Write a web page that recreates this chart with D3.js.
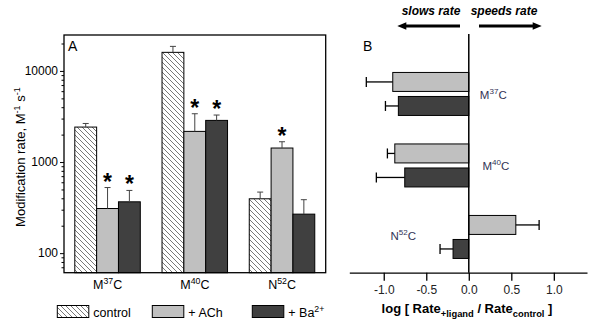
<!DOCTYPE html>
<html>
<head>
<meta charset="utf-8">
<script src="https://cdn.jsdelivr.net/npm/d3@7"></script>
<style>
  body { margin: 0; background: #fff; }
  svg { font-family: "Liberation Sans", Arial, sans-serif; }
</style>
</head>
<body>
<svg id="chart" width="600" height="329"></svg>
<script>
// mutants (name + superscript number)
const mutants = ["M", "M", "N"]
const mutantNum = ["37", "40", "52"]
const cats = ["M37C", "M40C", "N52C"]

// panel A: modification rates (M-1 s-1), with top of error bar
const controlRate = [2420, 16000, 395]
const controlErr = [2650, 18600, 468]
const achRate = [309, 2170, 1425]
const achErr = [525, 3390, 1670]
const baRate = [366, 2865, 268]
const baErr = [488, 3280, 386]
const achStar = [true, true, true]
const baStar = [true, true, false]

// panel B: log(rate ligand / rate control), with end of error bar
const achLog = [-0.894, -0.87, 0.553]
const achLogErr = [-1.205, -0.957, 0.827]
const baLog = [-0.828, -0.753, -0.185]
const baLogErr = [-0.98, -1.087, -0.338]

const yTicksA = [100, 1000, 10000]
const xTicksB = [-1.0, -0.5, 0.0, 0.5, 1.0]

const colors = { control: "url(#hatch)", ach: "#c0c0c0", ba: "#404040" }

const svg = d3.select("#chart")

// hatch pattern for control bars
const pat = svg.append("defs").append("pattern")
  .attr("id", "hatch")
  .attr("patternUnits", "userSpaceOnUse")
  .attr("width", 5).attr("height", 5)
pat.append("rect").attr("width", 5).attr("height", 5).attr("fill", "#fff")
pat.append("path")
  .attr("d", "M0,0L5,5M-1,4L1,6M4,-1L6,1")
  .attr("stroke", "#555").attr("stroke-width", 0.8)

// helper: text with superscript parts
function supText(sel, parts) {
  parts.forEach(p => {
    const t = sel.append("tspan").text(p.t)
    if (p.sup) t.attr("dy", -5).attr("font-size", "0.7em")
    else if (p.sub) t.attr("dy", 4).attr("font-size", "0.72em")
    else if (p.back) t.attr("dy", p.back)
  })
}

// ---------- Panel A ----------
const A = { left: 64, right: 325.7, top: 35, bottom: 272.7 }

const x0 = d3.scaleBand().domain(cats).range([A.left, A.right]).padding(0)
const yA = d3.scaleLog().domain([61, 24800]).range([A.bottom, A.top])

const groupA = cats.map((c, i) => ({
  cat: c,
  bars: [
    { key: "control", v: controlRate[i], e: controlErr[i], star: false },
    { key: "ach", v: achRate[i], e: achErr[i], star: achStar[i] },
    { key: "ba", v: baRate[i], e: baErr[i], star: baStar[i] }
  ]
}))

const g = svg.append("g")

groupA.forEach(gr => {
  const start = x0(gr.cat)
  const x1 = d3.scaleBand().domain(["control", "ach", "ba"])
    .range([start + 10.8, start + 76.3]).padding(0)

  const bg = g.append("g")
  bg.selectAll("rect").data(gr.bars).enter().append("rect")
    .attr("x", d => x1(d.key))
    .attr("y", d => yA(d.v))
    .attr("width", x1.bandwidth())
    .attr("height", d => A.bottom - yA(d.v))
    .attr("fill", d => colors[d.key])
    .attr("stroke", "#000").attr("stroke-width", 1)

  // error bars
  bg.selectAll("line.err").data(gr.bars).enter().append("line")
    .attr("x1", d => x1(d.key) + x1.bandwidth() / 2)
    .attr("x2", d => x1(d.key) + x1.bandwidth() / 2)
    .attr("y1", d => yA(d.v))
    .attr("y2", d => yA(d.e))
    .attr("stroke", "#444").attr("stroke-width", 1)
  bg.selectAll("line.cap").data(gr.bars).enter().append("line")
    .attr("x1", d => x1(d.key) + x1.bandwidth() / 2 - 3)
    .attr("x2", d => x1(d.key) + x1.bandwidth() / 2 + 3)
    .attr("y1", d => yA(d.e))
    .attr("y2", d => yA(d.e))
    .attr("stroke", "#444").attr("stroke-width", 1)

  // asterisks
  bg.selectAll("text.star").data(gr.bars.filter(d => d.star)).enter().append("text")
    .attr("x", d => x1(d.key) + x1.bandwidth() / 2)
    .attr("y", d => yA(d.e) + 2)
    .attr("text-anchor", "middle")
    .attr("font-size", "23px")
    .attr("font-weight", "bold")
    .text("*")
})

// frame
g.append("rect")
  .attr("x", A.left).attr("y", A.top)
  .attr("width", A.right - A.left).attr("height", A.bottom - A.top)
  .attr("fill", "none").attr("stroke", "#000").attr("stroke-width", 1.3)

// y axis with minor ticks
const minor = []
for (let dec = 10; dec <= 10000; dec *= 10)
  for (let k = 2; k <= 9; k++) if (dec * k >= 61 && dec * k <= 24800) minor.push(dec * k)

g.append("g").attr("transform", `translate(${A.left},0)`)
  .call(d3.axisLeft(yA).tickValues(minor).tickSize(2.5).tickFormat(""))
  .call(a => a.select(".domain").remove())
g.append("g").attr("transform", `translate(${A.left},0)`)
  .call(d3.axisLeft(yA).tickValues(yTicksA).tickSize(4).tickPadding(2).tickFormat(d3.format("d")))
  .call(a => a.select(".domain").remove())
  .call(a => a.selectAll("text").attr("font-size", "12px").attr("fill", "#000")
    .attr("font-family", "Liberation Sans, Arial, sans-serif"))

// category labels
cats.forEach((c, i) => {
  const t = g.append("text")
    .attr("x", x0(c) + x0.bandwidth() / 2)
    .attr("y", 288.5)
    .attr("text-anchor", "middle")
    .attr("font-size", "12.5px")
  supText(t, [{ t: mutants[i] }, { t: mutantNum[i], sup: true }, { t: "C", back: 5 }])
})

// y title
const yt = g.append("text")
  .attr("transform", "translate(25,157) rotate(-90)")
  .attr("text-anchor", "middle")
  .attr("font-size", "13px")
supText(yt, [{ t: "Modification rate, M" }, { t: "-1", sup: true }, { t: " s", back: 5 }, { t: "-1", sup: true }])

g.append("text").attr("x", 68).attr("y", 51).attr("font-size", "14px").text("A")

// legend
const legend = [
  { key: "control", label: [{ t: "control" }], x: 57.3 },
  { key: "ach", label: [{ t: "+ ACh" }], x: 152.3 },
  { key: "ba", label: [{ t: "+ Ba" }, { t: "2+", sup: true }], x: 252.3 }
]
legend.forEach(l => {
  g.append("rect")
    .attr("x", l.x).attr("y", 305.5).attr("width", 31.5).attr("height", 12)
    .attr("fill", colors[l.key]).attr("stroke", "#000").attr("stroke-width", 1)
  const t = g.append("text").attr("x", l.x + 36).attr("y", 316.5).attr("font-size", "12.5px")
  supText(t, l.label)
})

// ---------- Panel B ----------
const B = { left: 349.3, right: 587, top: 34, bottom: 272.7 }
const xB = d3.scaleLinear().domain([-1.405, 1.39]).range([B.left, B.right])
const yB = d3.scaleBand().domain(cats).range([58.2, B.bottom]).padding(0)

const gb = svg.append("g")

cats.forEach((c, i) => {
  const mid = yB(c) + yB.bandwidth() / 2
  const y1 = d3.scaleBand().domain(["ach", "ba"]).range([mid - 21.5, mid + 21.5]).paddingInner(0.21)
  const rows = [
    { key: "ach", v: achLog[i], e: achLogErr[i] },
    { key: "ba", v: baLog[i], e: baLogErr[i] }
  ]
  gb.selectAll(null).data(rows).enter().append("rect")
    .attr("x", d => Math.min(xB(0), xB(d.v)))
    .attr("y", d => y1(d.key))
    .attr("width", d => Math.abs(xB(d.v) - xB(0)))
    .attr("height", y1.bandwidth())
    .attr("fill", d => colors[d.key])
    .attr("stroke", "#000").attr("stroke-width", 1)
  gb.selectAll(null).data(rows).enter().append("line")
    .attr("x1", d => xB(d.v)).attr("x2", d => xB(d.e))
    .attr("y1", d => y1(d.key) + y1.bandwidth() / 2)
    .attr("y2", d => y1(d.key) + y1.bandwidth() / 2)
    .attr("stroke", "#000").attr("stroke-width", 1.3)
  gb.selectAll(null).data(rows).enter().append("line")
    .attr("x1", d => xB(d.e)).attr("x2", d => xB(d.e))
    .attr("y1", d => y1(d.key) + y1.bandwidth() / 2 - 5)
    .attr("y2", d => y1(d.key) + y1.bandwidth() / 2 + 5)
    .attr("stroke", "#000").attr("stroke-width", 1.3)
})

// category labels in B
const labelPosB = [0.13, 0.16, -0.92]
cats.forEach((c, i) => {
  const t = gb.append("text")
    .attr("x", xB(labelPosB[i]))
    .attr("y", yB(c) + yB.bandwidth() / 2 + (i === 2 ? 3 : 5))
    .attr("font-size", "11.5px")
    .attr("fill", "#333355")
  supText(t, [{ t: mutants[i] }, { t: mutantNum[i], sup: true }, { t: "C", back: 5 }])
})

// zero line
gb.append("line")
  .attr("x1", xB(0)).attr("x2", xB(0))
  .attr("y1", B.top).attr("y2", B.bottom)
  .attr("stroke", "#000").attr("stroke-width", 1.5)

// x axis
gb.append("g").attr("transform", `translate(0,${B.bottom})`)
  .call(d3.axisBottom(xB).tickValues(xTicksB).tickSizeOuter(0).tickSizeInner(8).tickPadding(5)
    .tickFormat(d => d3.format(".1f")(d).replace("\u2212", "-")))
  .call(a => a.select(".domain").attr("stroke-width", 1.3))
  .call(a => a.selectAll(".tick line").attr("stroke-width", 1.3))
  .call(a => a.selectAll("text").attr("font-size", "12px").attr("fill", "#222")
    .attr("font-family", "Liberation Sans, Arial, sans-serif"))

// x title
const xt = gb.append("text")
  .attr("x", 467).attr("y", 313)
  .attr("text-anchor", "middle")
  .attr("font-size", "13px").attr("font-weight", "bold")
supText(xt, [{ t: "log [ Rate" }, { t: "+ligand", sub: true }, { t: " / Rate", back: -4 }, { t: "control", sub: true }, { t: " ]", back: -4 }])

gb.append("text").attr("x", 363).attr("y", 51).attr("font-size", "14px").text("B")

// direction arrows
gb.append("text").attr("x", 431).attr("y", 15).attr("text-anchor", "middle")
  .attr("font-size", "12px").attr("font-weight", "bold").attr("font-style", "italic").text("slows rate")
gb.append("text").attr("x", 504).attr("y", 15).attr("text-anchor", "middle")
  .attr("font-size", "12px").attr("font-weight", "bold").attr("font-style", "italic").text("speeds rate")

function arrow(xFrom, xTo, y) {
  const dir = Math.sign(xTo - xFrom)
  gb.append("line").attr("x1", xFrom).attr("x2", xTo - dir * 6).attr("y1", y).attr("y2", y)
    .attr("stroke", "#000").attr("stroke-width", 3.2)
  gb.append("path")
    .attr("d", `M${xTo},${y}L${xTo - dir * 9},${y - 3.8}L${xTo - dir * 9},${y + 3.8}Z`)
    .attr("fill", "#000")
}
arrow(460, 397.3, 26)
arrow(479, 541.7, 26)
</script>
</body>
</html>
